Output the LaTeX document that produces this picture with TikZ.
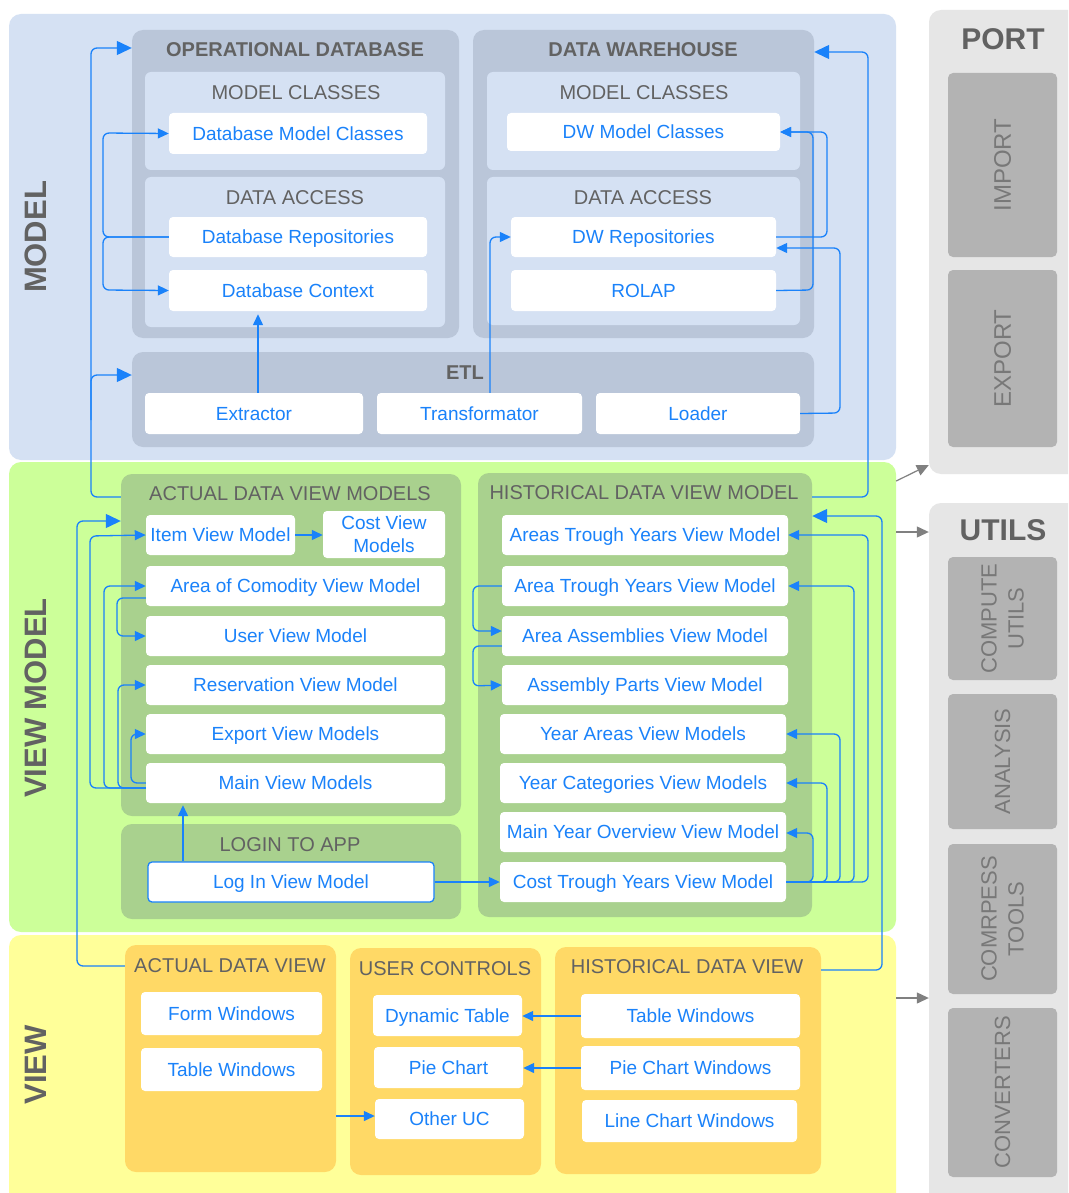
\documentclass[tikz,border=0pt]{standalone}
\usepackage{fontspec}
\setmainfont{Liberation Sans}
\usetikzlibrary{arrows.meta,calc}
\definecolor{blu}{HTML}{1A82FA}
\definecolor{tgray}{HTML}{626262}
\definecolor{modelbg}{HTML}{D5E1F3}
\definecolor{mcont}{HTML}{BAC6D9}
\definecolor{msub}{HTML}{D5E1F3}
\definecolor{vmbg}{HTML}{CCFF99}
\definecolor{vmcont}{HTML}{A9D18E}
\definecolor{viewbg}{HTML}{FFFF99}
\definecolor{viewcont}{HTML}{FFD966}
\definecolor{portbg}{HTML}{E6E6E6}
\definecolor{portin}{HTML}{B3B3B3}
\definecolor{itxtc}{HTML}{787878}
\definecolor{garrc}{HTML}{808080}
\newcommand\mybox[7]{\node[#1, minimum width={#4-#2}, minimum height={#5-#3}] (#6) at ({(#2+#4)/2},{(#3+#5)/2}) {#7};}
\tikzset{
  reg/.style={rounded corners=12pt, inner sep=0pt},
  cont/.style={rounded corners=11pt, inner sep=0pt},
  sub/.style={rounded corners=6pt, inner sep=0pt},
  ibox/.style={fill=portin, rounded corners=5pt, inner sep=0pt},
  wboxbase/.style={fill=white, rounded corners=4pt, inner sep=0pt, text=blu, align=center,
    font=\fontsize{19}{23}\selectfont},
  wbox/.style={wboxbase, text height=13.6pt, text depth=0pt},
  ttl/.style={text=tgray, inner sep=0pt, font=\fontsize{20}{24}\selectfont},
  bttl/.style={text=tgray, inner sep=0pt, font=\bfseries\fontsize{20}{24}\selectfont},
  bigttl/.style={text=tgray, inner sep=0pt, font=\bfseries\fontsize{30}{34}\selectfont},
  sidettl/.style={text=tgray, inner sep=0pt, rotate=90, font=\bfseries\fontsize{31}{35}\selectfont},
  itxt/.style={text=itxtc, inner sep=0pt, rotate=90, align=center, font=\fontsize{22}{27}\selectfont},
  itxtb/.style={text=itxtc, inner sep=0pt, rotate=90, align=center, font=\fontsize{24}{28}\selectfont},
  con/.style={draw=blu, line width=1.3pt, rounded corners=6pt, -{Triangle[length=11pt,width=10pt]}},
  conb/.style={draw=blu, line width=1.3pt, rounded corners=6pt, -{Triangle[length=15pt,width=14pt]}},
  garr/.style={draw=garrc, line width=1.2pt, -{Triangle[length=12pt,width=11pt]}},
}
\begin{document}
\begin{tikzpicture}[x=1pt,y=-1pt]
\useasboundingbox (0,0) rectangle (1068,1193);
\clip (0,0) rectangle (1068,1193);
\fill[white] (0,0) rectangle (1068,1193);
% regions
\mybox{reg, fill=modelbg}{9}{14}{896}{460}{modelreg}{}
\mybox{reg, fill=vmbg}{9}{462}{896}{932}{vmreg}{}
\mybox{reg, fill=viewbg}{9}{935}{896}{1210}{viewreg}{}
\mybox{reg, fill=portbg}{929}{10}{1090}{474}{port}{}
\mybox{reg, fill=portbg}{929}{503}{1090}{1210}{utils}{}
\node[sidettl] (modelT) at (36,237) {MODEL};
\node[sidettl] (vmT) at (36,698) {VIEW MODEL};
\node[sidettl] (viewT) at (36,1065) {VIEW};
% model containers
\mybox{cont, fill=mcont}{132}{30}{459}{338}{opdb}{}
\mybox{cont, fill=mcont}{473}{30}{814}{338}{dw}{}
\mybox{cont, fill=mcont}{132}{352}{814}{447}{etl}{}
\mybox{sub, fill=msub}{145}{72}{445}{170}{omc}{}
\mybox{sub, fill=msub}{145}{177}{445}{327}{oda}{}
\mybox{sub, fill=msub}{487}{72}{800}{170}{dmc}{}
\mybox{sub, fill=msub}{487}{177}{800}{325}{dda}{}
\node[bttl] (opdbT) at (295,50) {OPERATIONAL DATABASE};
\node[bttl] (dwT) at (643,50) {DATA WAREHOUSE};
\node[ttl] (omcT) at (296,93) {MODEL CLASSES};
\node[ttl] (odaT) at (295,198) {DATA ACCESS};
\node[ttl] (dmcT) at (644,93) {MODEL CLASSES};
\node[ttl] (ddaT) at (643,198) {DATA ACCESS};
\node[bttl] (etlT) at (465,373) {ETL};
\mybox{wbox}{169}{113}{427}{154}{dbmc}{Database Model Classes}
\mybox{wbox}{169}{217}{427}{257}{dbrep}{Database Repositories}
\mybox{wbox}{169}{270}{427}{311}{dbctx}{Database Context}
\mybox{wbox}{507}{113}{780}{151}{dwmc}{DW Model Classes}
\mybox{wbox}{511}{217}{776}{257}{dwrep}{DW Repositories}
\mybox{wbox}{511}{270}{776}{311}{rolap}{ROLAP}
\mybox{wbox}{145}{393}{363}{434}{extr}{Extractor}
\mybox{wbox}{377}{393}{582}{434}{trans}{Transformator}
\mybox{wbox}{596}{393}{800}{434}{load}{Loader}
% view model containers
\mybox{cont, fill=vmcont}{121}{474}{461}{816}{advm}{}
\mybox{cont, fill=vmcont}{121}{824}{461}{919}{logc}{}
\mybox{cont, fill=vmcont}{478}{473}{812}{917}{hdvm}{}
\node[ttl] (advmT) at (290,494) {ACTUAL DATA VIEW MODELS};
\node[ttl] (logcT) at (290,845) {LOGIN TO APP};
\node[ttl] (hdvmT) at (644,493) {HISTORICAL DATA VIEW MODEL};
\mybox{wbox}{146}{515}{295}{555}{itemvm}{Item View Model}
\mybox{wboxbase}{323}{511}{445}{558}{costvm}{Cost View\\Models}
\mybox{wbox}{146}{566}{445}{606}{areacvm}{Area of Comodity View Model}
\mybox{wbox}{146}{616}{445}{656}{uservm}{User View Model}
\mybox{wbox}{146}{665}{445}{705}{resvm}{Reservation View Model}
\mybox{wbox}{146}{714}{445}{754}{expvm}{Export View Models}
\mybox{wbox}{146}{763}{445}{803}{mainvm}{Main View Models}
\mybox{wbox, draw=blu, line width=1.3pt}{148}{862}{434}{902}{login}{Log In View Model}
\mybox{wbox}{502}{515}{788}{555}{areasty}{Areas Trough Years View Model}
\mybox{wbox}{502}{566}{788}{606}{atyvm}{Area Trough Years View Model}
\mybox{wbox}{502}{616}{788}{656}{aavm}{Area Assemblies View Model}
\mybox{wbox}{502}{665}{788}{705}{apvm}{Assembly Parts View Model}
\mybox{wbox}{500}{714}{786}{754}{yareas}{Year Areas View Models}
\mybox{wbox}{500}{763}{786}{803}{ycat}{Year Categories View Models}
\mybox{wbox}{500}{812}{786}{852}{mainyo}{Main Year Overview View Model}
\mybox{wbox}{500}{862}{786}{902}{costty}{Cost Trough Years View Model}
% view containers
\mybox{cont, fill=viewcont}{125}{945}{336}{1172}{adv}{}
\mybox{cont, fill=viewcont}{350}{948}{541}{1175}{uc}{}
\mybox{cont, fill=viewcont}{555}{947}{821}{1174}{hdv}{}
\node[ttl] (advT) at (230,966) {ACTUAL DATA VIEW};
\node[ttl] (ucT) at (445,969) {USER CONTROLS};
\node[ttl] (hdvT) at (687,967) {HISTORICAL DATA VIEW};
\mybox{wbox}{141}{992}{322}{1035}{formw}{Form Windows}
\mybox{wbox}{141}{1048}{322}{1091}{tablew}{Table Windows}
\mybox{wbox}{373}{995}{522}{1036}{dyn}{Dynamic Table}
\mybox{wbox}{374}{1047}{523}{1088}{pie}{Pie Chart}
\mybox{wbox}{375}{1099}{524}{1139}{other}{Other UC}
\mybox{wbox}{581}{994}{800}{1038}{htw}{Table Windows}
\mybox{wbox}{581}{1046}{800}{1090}{hpie}{Pie Chart Windows}
\mybox{wbox}{582}{1100}{797}{1142}{hline}{Line Chart Windows}
% port / utils
\node[bigttl] (portT) at (1003,39) {PORT};
\node[bigttl] (utilsT) at (1003,530) {UTILS};
\mybox{ibox}{948}{73}{1057}{257}{imp}{}
\mybox{ibox}{948}{270}{1057}{447}{exp}{}
\mybox{ibox}{948}{557}{1057}{680}{cu}{}
\mybox{ibox}{948}{694}{1057}{829}{ana}{}
\mybox{ibox}{948}{844}{1057}{994}{comp}{}
\mybox{ibox}{948}{1008}{1057}{1177}{conv}{}
\node[itxtb] (impT) at (imp) {IMPORT};
\node[itxtb] (expT) at (exp) {EXPORT};
\node[itxt] (cuT) at (cu) {COMPUTE\\UTILS};
\node[itxt] (anaT) at (ana) {ANALYSIS};
\node[itxt] (compT) at (comp) {COMRPESS\\TOOLS};
\node[itxt] (convT) at (conv) {CONVERTERS};
% connectors: model
\draw[conb] (advm.west |- 0,497) -- (91,497) -- (91,48) -- (opdb.west |- 0,48);
\draw[conb] (91,420) -- (91,375) -- (etl.west |- 0,375);
\draw[con] (dbrep.west) -- (103,237) -- (103,133) -- (dbmc.west);
\draw[con] (dbrep.west) -- (103,237) -- (103,290) -- (dbctx.west);
\draw[con, shorten >=3pt] (extr.north -| 258,0) -- (dbctx.south -| 258,0);
\draw[con] (trans.north -| 490,0) -- (490,237) -- (dwrep.west);
\draw[con] (load.east) -- (840,413) -- (840,248) -- (dwrep.east |- 0,248);
\draw[con] (dwrep.east) -- (827,237) -- (827,132) -- (dwmc.east);
\draw[con] (rolap.east) -- (813,290) -- (813,132) -- (dwmc.east);
\draw[conb] (hdvm.east |- 0,497) -- (868,497) -- (868,52) -- (dw.east |- 0,52);
% connectors: view model
\draw[conb] (adv.west |- 0,966) -- (77,966) -- (77,521) -- (advm.west |- 0,521);
\draw[con] (mainvm.west |- 0,788) -- (90,788) -- (90,536) -- (itemvm.west);
\draw[con] (mainvm.west |- 0,788) -- (104,788) -- (104,586) -- (areacvm.west);
\draw[con] (mainvm.west |- 0,788) -- (118,788) -- (118,685) -- (resvm.west);
\draw[con] (mainvm.west |- 0,783) -- (131,783) -- (131,734) -- (expvm.west);
\draw[con] (areacvm.west |- 0,598) -- (117,598) -- (117,636) -- (uservm.west);
\draw[con] (itemvm.east) -- (costvm.west |- itemvm.east);
\draw[con, shorten >=2pt] (login.north -| 183,0) -- (mainvm.south -| 183,0);
\draw[con] (login.east) -- (costty.west);
\draw[con] (atyvm.west) -- (473,586) -- (473,631) -- (aavm.west |- 0,631);
\draw[con] (aavm.west |- 0,646) -- (473,646) -- (473,686) -- (apvm.west);
\draw[con] (costty.east) -- (813,882) -- (813,833) -- (mainyo.east |- 0,833);
\draw[con] (costty.east) -- (827,882) -- (827,783) -- (ycat.east);
\draw[con] (costty.east) -- (840,882) -- (840,734) -- (yareas.east);
\draw[con] (costty.east) -- (854,882) -- (854,586) -- (atyvm.east);
\draw[con] (costty.east) -- (868,882) -- (868,535) -- (areasty.east);
\draw[conb] (hdv.east |- 0,970) -- (882,970) -- (882,516) -- (hdvm.east |- 0,516);
% connectors: view
\draw[con] (htw.west) -- (dyn.east |- htw.west);
\draw[con] (hpie.west) -- (pie.east |- hpie.west);
\draw[con] (adv.east |- 0,1116) -- (other.west |- 0,1116);
% gray arrows
\draw[garr] (vmreg.east |- 0,481) -- (port.west |- 0,465);
\draw[garr] (vmreg.east |- 0,532) -- (utils.west |- 0,532);
\draw[garr] (viewreg.east |- 0,998) -- (utils.west |- 0,998);
\end{tikzpicture}
\end{document}
